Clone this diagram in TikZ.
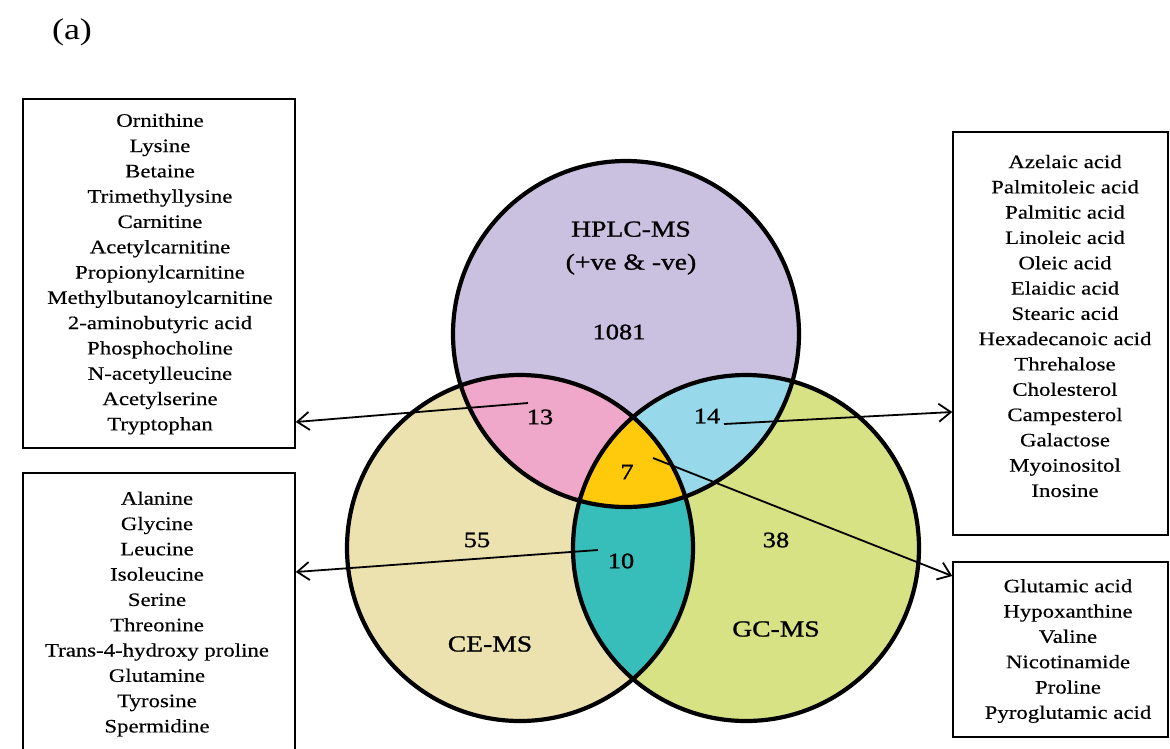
\documentclass[tikz,border=0pt]{standalone}
\usepackage{fontspec}
\setmainfont{Liberation Serif}[FakeStretch=1.2,FakeBold=0.4]
\usetikzlibrary{arrows.meta}

\definecolor{hplccol}{RGB}{202,192,224}
\definecolor{cecol}{RGB}{236,226,176}
\definecolor{gccol}{RGB}{214,226,132}
\definecolor{hcpink}{RGB}{240,168,202}
\definecolor{hgblue}{RGB}{152,216,235}
\definecolor{cgteal}{RGB}{56,190,186}
\definecolor{allgold}{RGB}{255,201,12}

\begin{document}
\begin{tikzpicture}[x=1pt,y=-1pt,
    ring/.style={line width=4.2pt},
    listbox/.style={draw,line width=1.5pt,inner sep=0pt},
    listtext/.style={align=center,inner sep=0pt,font=\fontsize{19}{25.3}\selectfont},
    setname/.style={align=center,font=\fontsize{23}{33}\selectfont\addfontfeature{FakeBold=1}},
    count/.style={font=\fontsize{22}{26}\selectfont\addfontfeature{FakeBold=1.2}},
    arr/.style={-{Straight Barb[length=12pt,width=18pt]},line width=1.8pt}]
      \useasboundingbox (0,0) rectangle (1170,748);
      \clip (0,0) rectangle (1170,748);

      \node[font=\fontsize{30}{34}\selectfont\addfontfeature{FakeBold=0}] (panel) at (72,32) {(a)};

      % circle centres
      \coordinate (hplc) at (626,334);
      \coordinate (ce) at (520,548);
      \coordinate (gc) at (746,548);

      % fills
      \fill[hplccol] (hplc) circle (173pt);
      \fill[cecol] (ce) circle (173pt);
      \fill[gccol] (gc) circle (173pt);
      \begin{scope}
        \clip (hplc) circle (173pt);
        \fill[hcpink] (ce) circle (173pt);
        \fill[hgblue] (gc) circle (173pt);
      \end{scope}
      \begin{scope}
        \clip (ce) circle (173pt);
        \fill[cgteal] (gc) circle (173pt);
        \clip (hplc) circle (173pt);
        \fill[allgold] (gc) circle (173pt);
      \end{scope}
      \draw[ring] (hplc) circle (173pt);
      \draw[ring] (ce) circle (173pt);
      \draw[ring] (gc) circle (173pt);

      % labels inside
      \node[setname] (hplcname) at (631,248) {HPLC-MS\\(+ve \& -ve)};
      \node[setname] (cename) at (490,644) {CE-MS};
      \node[setname] (gcname) at (776,629) {GC-MS};
      \node[count] (n1081) at (619,332) {1081};
      \node[count] (n13) at (540,417) {13};
      \node[count] (n14) at (707,416) {14};
      \node[count] (n7) at (627,472) {7};
      \node[count] (n10) at (621,561) {10};
      \node[count] (n55) at (477,540) {55};
      \node[count] (n38) at (776,540) {38};

      % lists
      \node[listbox,minimum width=272pt,minimum height=349pt] (hcbox) at (159,273.5) {};
      \node[listtext] (hclist) at (160,274) {Ornithine\\Lysine\\Betaine\\Trimethyllysine\\Carnitine\\Acetylcarnitine\\Propionylcarnitine\\Methylbutanoylcarnitine\\2-aminobutyric acid\\Phosphocholine\\N-acetylleucine\\Acetylserine\\Tryptophan};
      \node[listbox,minimum width=215pt,minimum height=403pt] (hgbox) at (1060.5,333.5) {};
      \node[listtext] (hglist) at (1065,326) {Azelaic acid\\Palmitoleic acid\\Palmitic acid\\Linoleic acid\\Oleic acid\\Elaidic acid\\Stearic acid\\Hexadecanoic acid\\Threhalose\\Cholesterol\\Campesterol\\Galactose\\Myoinositol\\Inosine};
      \node[listbox,minimum width=272pt,minimum height=282pt] (cgbox) at (159,614) {};
      \node[listtext] (cglist) at (157,614) {Alanine\\Glycine\\Leucine\\Isoleucine\\Serine\\Threonine\\Trans-4-hydroxy proline\\Glutamine\\Tyrosine\\Spermidine};
      \node[listbox,minimum width=215pt,minimum height=175pt] (allbox) at (1060.5,649.5) {};
      \node[listtext] (alllist) at (1068,651) {Glutamic acid\\Hypoxanthine\\Valine\\Nicotinamide\\Proline\\Pyroglutamic acid};

      % arrows
      \coordinate (s13) at (528,403);
      \coordinate (s14) at (724,424);
      \coordinate (s7) at (653,458);
      \coordinate (s10) at (598,550);
      \draw[arr] (s13) -- (hcbox.east |- 0,422);
      \draw[arr] (s14) -- (hgbox.west |- 0,412);
      \draw[arr] (s7) -- (allbox.west |- 0,576);
      \draw[arr] (s10) -- (cgbox.east |- 0,572);
\end{tikzpicture}
\end{document}
